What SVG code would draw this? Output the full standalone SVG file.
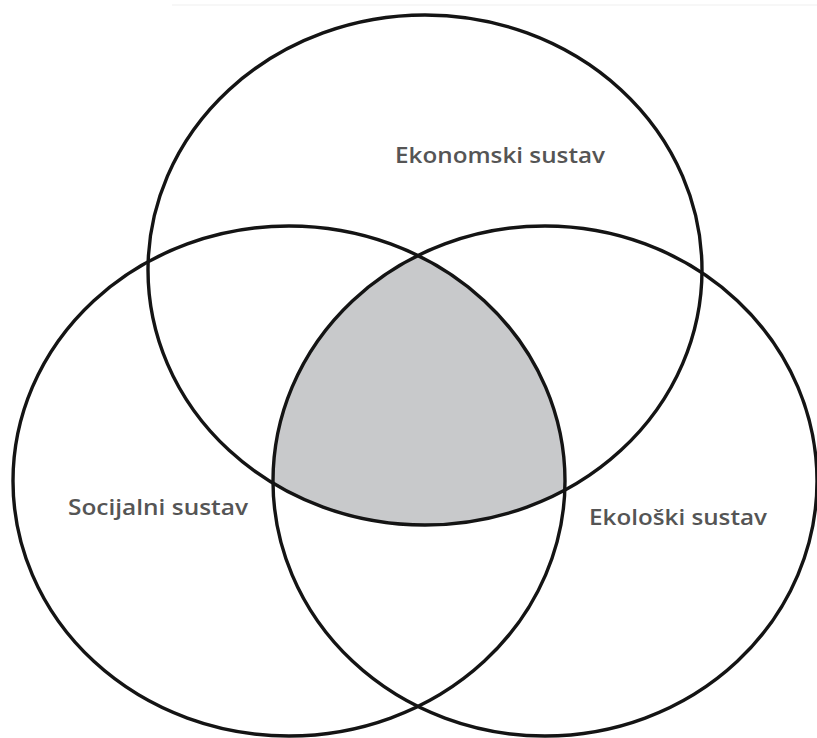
<svg xmlns="http://www.w3.org/2000/svg" width="817" height="738" viewBox="0 0 817 738">
<style>
.ring{fill:none;stroke:#141414;stroke-width:3.4}
.lbl{font-family:"Open Sans","Noto Sans",sans-serif;font-size:21px;font-weight:600;fill:#555555}
</style>
<defs>
<clipPath id="clipL"><ellipse cx="289" cy="481" rx="276" ry="255"/></clipPath>
<clipPath id="clipR"><ellipse cx="545" cy="481" rx="272" ry="255"/></clipPath>
</defs>
<rect width="817" height="738" fill="#ffffff"/>
<line x1="172" y1="5" x2="817" y2="5" stroke="#f7f7f7" stroke-width="2"/>
<g id="center-overlap" clip-path="url(#clipL)">
<g clip-path="url(#clipR)">
<ellipse cx="425" cy="270" rx="277" ry="255" fill="#c8c9cb"/>
</g>
</g>
<g id="ekonomski">
<ellipse class="ring" cx="425" cy="270" rx="277" ry="255"/>
<text class="lbl" x="395" y="163" textLength="210" lengthAdjust="spacingAndGlyphs">Ekonomski sustav</text>
</g>
<g id="socijalni">
<ellipse class="ring" cx="289" cy="481" rx="276" ry="255"/>
<text class="lbl" x="68" y="515" textLength="180" lengthAdjust="spacingAndGlyphs">Socijalni sustav</text>
</g>
<g id="ekoloski">
<ellipse class="ring" cx="545" cy="481" rx="272" ry="255"/>
<text class="lbl" x="589" y="525" textLength="178" lengthAdjust="spacingAndGlyphs">Ekološki sustav</text>
</g>
<g id="connectors"/>
</svg>
